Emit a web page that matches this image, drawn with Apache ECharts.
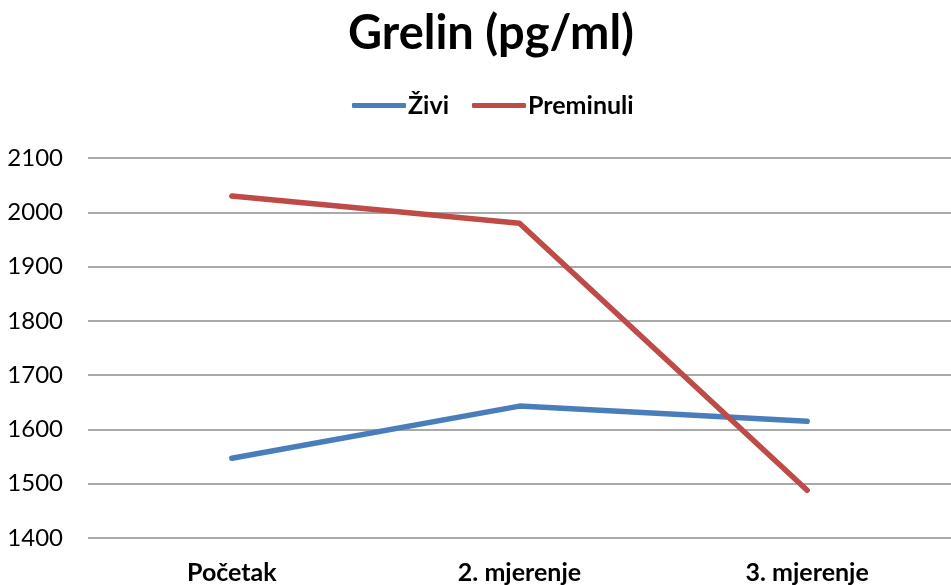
<!DOCTYPE html>
<html>
<head>
<meta charset="utf-8">
<script src="https://cdn.jsdelivr.net/npm/echarts@6/dist/echarts.min.js"></script>
<style>
  html, body { margin: 0; padding: 0; background: #fff; }
  #chart { width: 951px; height: 585px; }
</style>
</head>
<body>
<div id="chart"></div>
<script>
// Grelin measurements over three time points
const categories = ['Početak', '2. mjerenje', '3. mjerenje'];
const seriesNames = ['Živi', 'Preminuli'];
const zivi = [1547, 1643, 1615];
const preminuli = [2030, 1980, 1488];
const yTicks = [1400, 1500, 1600, 1700, 1800, 1900, 2000, 2100];

const FONT = 'Lato';
const chart = echarts.init(document.getElementById('chart'));

chart.setOption({
  backgroundColor: '#ffffff',
  animation: false,
  textStyle: { fontFamily: FONT },
  title: {
    text: 'Grelin (pg/ml)',
    left: 486, top: 5,
    textAlign: 'center',
    textStyle: { fontFamily: FONT, fontWeight: 'bold', fontSize: 47, color: '#000' }
  },
  legend: {
    data: seriesNames,
    left: 347,
    top: 88,
    itemWidth: 54,
    itemHeight: 5,
    itemGap: 23,
    icon: 'roundRect',
    textStyle: { fontFamily: FONT, fontWeight: 'bold', fontSize: 25, color: '#000', padding: [0, 0, 0, -3] }
  },
  grid: { left: 88, right: -6, top: 158, bottom: 47, containLabel: false },
  xAxis: {
    type: 'category',
    data: categories,
    boundaryGap: true,
    axisLine: { show: false },
    axisTick: { show: false },
    axisLabel: { fontFamily: FONT, fontWeight: 'bold', fontSize: 25, color: '#000', margin: 22 }
  },
  yAxis: {
    type: 'value',
    min: yTicks[0],
    max: yTicks[yTicks.length - 1],
    interval: 100,
    axisLine: { show: false },
    axisTick: { show: false },
    splitLine: { lineStyle: { color: '#8c8c8c', width: 1.5 } },
    axisLabel: { fontFamily: FONT, fontSize: 24, color: '#000', margin: 25, formatter: v => String(v) }
  },
  series: [
    {
      name: seriesNames[0], type: 'line', data: zivi,
      symbol: 'none',
      color: '#4a7ebb',
      lineStyle: { width: 5.5, color: '#4a7ebb', cap: 'round', join: 'round' }
    },
    {
      name: seriesNames[1], type: 'line', data: preminuli,
      symbol: 'none',
      color: '#be4b48',
      lineStyle: { width: 5.5, color: '#be4b48', cap: 'round', join: 'round' }
    }
  ]
});
</script>
</body>
</html>
